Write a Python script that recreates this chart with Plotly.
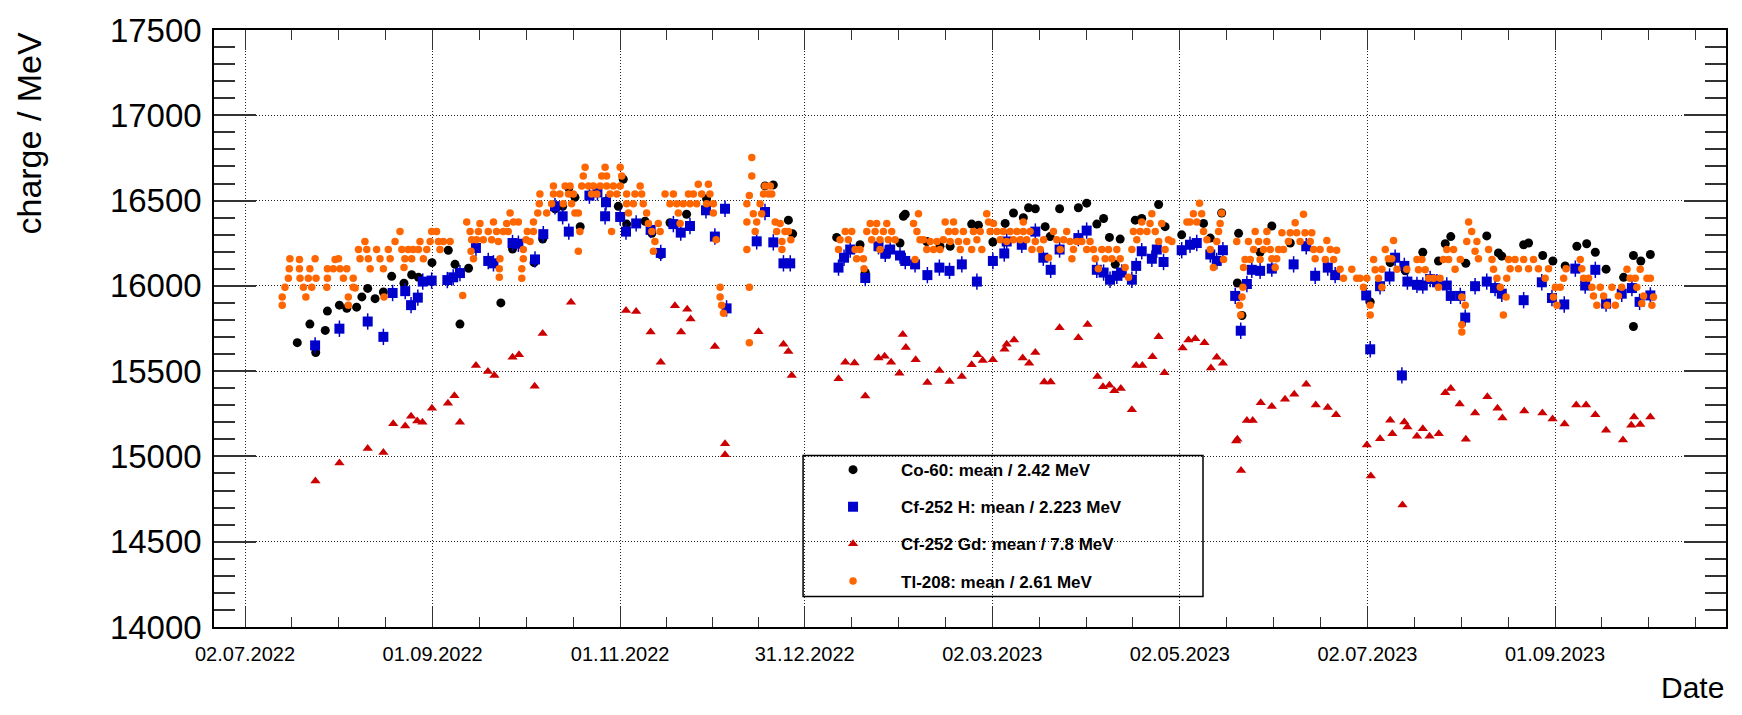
import plotly.graph_objects as go
import pandas as pd

DAY0 = "2022-07-02"  # day offsets below are counted from this date

# ---------------- data (day offset, charge/MeV) ----------------
co60 = [
    (17.0, 15667), (23.0, 15609), (21.1, 15776), (26.1, 15739), (26.8, 15852), (30.7, 15887),
    (33.1, 15868), (36.3, 15875), (38.0, 15935), (39.9, 15985), (42.3, 15925), (45.0, 15964),
    (47.7, 16056), (51.7, 16015), (54.2, 16065), (56.4, 16050), (60.8, 16136), (66.1, 16209),
    (68.3, 16126), (69.9, 15776), (72.7, 16103), (83.2, 15900), (87.0, 16216), (94.0, 16136),
    (96.8, 16274), (100.8, 16452), (103.3, 16467), (105.3, 16573), (107.3, 16519), (109.0, 16347),
    (117.4, 16496), (121.4, 16466), (123.0, 16625), (124.1, 16362), (130.1, 16379), (132.3, 16308),
    (135.2, 16184), (138.2, 16370), (143.6, 16420), (150.1, 16510), (169.1, 16586), (171.8, 16592),
    (176.7, 16385), (178.1, 16305), (192.4, 16284), (200.0, 16241), (201.7, 16078), (213.0, 16251),
    (214.1, 16408), (214.7, 16420), (221.7, 16260), (226.0, 16232), (229.3, 16232), (236.3, 16362),
    (238.5, 16356), (243.2, 16257), (247.2, 16366), (249.9, 16427), (253.1, 16400), (254.8, 16458),
    (257.0, 16452), (260.2, 16347), (261.8, 16289), (264.9, 16452), (271.0, 16458), (273.7, 16485),
    (277.0, 16362), (279.2, 16395), (281.1, 16284), (283.0, 16126), (284.6, 16274), (289.5, 16385),
    (291.6, 16395), (297.1, 16477), (299.2, 16347), (304.6, 16299), (311.7, 16366), (313.9, 16280),
    (317.6, 16427), (323.1, 16308), (322.7, 16017), (324.2, 15826), (330.1, 16197), (333.9, 16351),
    (339.9, 16251), (365.9, 15906), (372.4, 16136), (377.3, 16088), (383.0, 16197), (388.1, 16146),
    (390.3, 16247), (392.1, 16289), (397.0, 16132), (403.8, 16293), (407.6, 16193), (408.7, 16174),
    (415.8, 16241), (417.4, 16251), (422.0, 16178), (425.3, 16146), (429.3, 16117), (433.1, 16232),
    (436.3, 16247), (439.1, 16197), (442.6, 16098), (448.3, 16050), (451.5, 16178), (451.5, 15762),
    (453.9, 16146), (457.0, 16184),
]

cf_h = [
    (22.8, 15651), (30.7, 15749), (39.9, 15791), (45.0, 15701), (48.0, 15958), (52.1, 15969),
    (54.0, 15887), (56.2, 15931), (57.8, 16025), (60.7, 16031), (65.8, 16034), (67.7, 16050),
    (69.9, 16075), (75.1, 16222), (79.1, 16146), (80.8, 16132), (87.0, 16251), (88.9, 16247),
    (94.3, 16155), (97.0, 16303), (100.8, 16467), (103.3, 16408), (105.3, 16318), (112.0, 16529),
    (114.6, 16548), (117.4, 16490), (117.1, 16408), (122.0, 16404), (123.9, 16318), (127.2, 16366),
    (131.9, 16328), (135.2, 16193), (139.3, 16362), (141.7, 16312), (144.7, 16351), (149.9, 16443),
    (152.8, 16289), (156.1, 16452), (156.6, 15868), (166.4, 16261), (169.1, 16433), (171.8, 16255),
    (175.1, 16132), (177.3, 16132), (193.0, 16107), (194.8, 16165), (196.8, 16213), (201.7, 16046),
    (206.0, 16232), (208.2, 16188), (209.8, 16213), (213.0, 16178), (214.7, 16146), (217.9, 16126),
    (221.9, 16063), (225.8, 16107), (229.1, 16088), (233.1, 16126), (238.0, 16025), (243.2, 16146),
    (246.9, 16190), (247.7, 16260), (252.6, 16241), (257.0, 16318), (259.6, 16165), (262.0, 16094),
    (264.9, 16213), (271.0, 16280), (273.7, 16324), (277.0, 16094), (279.2, 16078), (281.3, 16036),
    (283.5, 16059), (285.1, 16078), (288.4, 16036), (289.8, 16117), (291.6, 16203), (294.9, 16159),
    (296.5, 16213), (298.7, 16140), (304.6, 16209), (307.3, 16241), (309.5, 16251), (313.9, 16184),
    (316.0, 16146), (318.0, 16209), (322.0, 15941), (325.8, 16011), (323.8, 15737), (327.4, 16094),
    (330.1, 16088), (333.9, 16101), (341.0, 16126), (345.1, 16232), (348.0, 16059), (352.1, 16107),
    (354.5, 16063), (364.6, 15944), (365.9, 15628), (369.1, 15998), (372.2, 16055), (374.0, 16165),
    (376.2, 15475), (377.0, 16117), (378.0, 16025), (381.1, 16006), (383.0, 16002), (385.4, 16040),
    (387.6, 16021), (390.8, 16002), (392.1, 15941), (395.2, 15941), (396.8, 15814), (400.0, 15998),
    (403.8, 16025), (406.5, 15987), (408.7, 15954), (415.8, 15916), (421.7, 16021), (425.0, 15929),
    (429.0, 15891), (432.6, 16101), (435.8, 16002), (439.1, 16094), (442.6, 15896), (447.7, 15954),
    (451.0, 15987), (453.5, 15906), (457.0, 15944),
]

cf_gd = [
    (22.9, 14856), (30.7, 14962), (39.9, 15046), (45.0, 15023), (48.2, 15192), (52.1, 15179),
    (54.0, 15235), (56.0, 15208), (57.7, 15200), (60.8, 15283), (66.0, 15312), (68.1, 15356),
    (69.9, 15200), (75.1, 15533), (79.0, 15498), (81.1, 15475), (87.0, 15581), (89.1, 15596),
    (94.2, 15412), (96.8, 15721), (106.0, 15904), (123.9, 15856), (127.2, 15850), (131.9, 15729),
    (135.2, 15552), (139.8, 15883), (141.8, 15729), (143.8, 15863), (144.9, 15806), (152.8, 15644),
    (156.1, 15075), (156.1, 15010), (167.0, 15731), (175.1, 15658), (176.7, 15615), (177.8, 15475),
    (193.0, 15456), (195.2, 15552), (198.2, 15548), (201.7, 15354), (206.0, 15577), (208.0, 15587),
    (210.1, 15552), (212.8, 15488), (213.9, 15715), (214.9, 15638), (218.1, 15567), (221.9, 15433),
    (225.8, 15504), (229.1, 15440), (233.1, 15469), (236.3, 15538), (238.2, 15596), (239.9, 15562),
    (243.2, 15567), (247.0, 15629), (247.7, 15658), (250.1, 15683), (252.9, 15577), (255.0, 15546),
    (257.0, 15610), (259.9, 15437), (262.0, 15437), (264.9, 15754), (271.0, 15696), (274.0, 15773),
    (277.2, 15469), (279.0, 15408), (281.1, 15417), (282.7, 15385), (284.8, 15398), (288.4, 15273),
    (289.8, 15533), (291.8, 15533), (295.1, 15585), (297.1, 15702), (299.0, 15490), (304.9, 15635),
    (306.8, 15683), (309.0, 15690), (312.0, 15667), (314.1, 15519), (316.0, 15581), (318.0, 15546),
    (322.3, 15090), (322.7, 15100), (323.9, 14917), (325.8, 15210), (327.7, 15210), (330.3, 15315),
    (333.9, 15292), (338.2, 15335), (341.2, 15365), (345.1, 15423), (348.2, 15302), (352.1, 15287),
    (354.8, 15244), (364.8, 15067), (366.1, 14885), (369.1, 15104), (372.4, 15212), (373.1, 15133),
    (376.4, 14715), (377.0, 15202), (378.0, 15173), (381.1, 15119), (383.0, 15162), (385.2, 15119),
    (388.2, 15133), (390.3, 15373), (392.1, 15398), (395.0, 15308), (397.0, 15100), (400.0, 15254),
    (404.0, 15350), (407.3, 15283), (408.9, 15225), (416.0, 15267), (421.9, 15254), (425.2, 15219),
    (429.1, 15190), (432.9, 15302), (436.1, 15302), (439.1, 15244), (442.6, 15154), (448.1, 15096),
    (450.8, 15183), (451.7, 15231), (453.7, 15187), (457.0, 15231),
]

tl208 = [
    (12.1, 15887), (12.1, 15935), (13.0, 15992), (14.1, 16044), (14.4, 16101), (14.6, 16159),
    (17.7, 16155), (17.7, 16101), (17.9, 16044), (19.0, 15992), (19.8, 15935), (20.6, 16044),
    (21.1, 16101), (21.7, 15992), (22.8, 16159), (23.1, 16044), (26.6, 15992), (26.8, 16044),
    (26.8, 16101), (28.7, 16101), (29.3, 16155), (30.4, 16159), (30.9, 16101), (32.0, 16044),
    (33.1, 16101), (33.6, 15935), (33.6, 15887), (35.2, 15992), (35.2, 16044), (35.8, 15987),
    (36.9, 16213), (37.4, 16159), (39.0, 16260), (39.6, 16213), (40.1, 16159), (40.7, 16101),
    (42.8, 16213), (43.9, 16159), (45.0, 16101), (45.2, 15935), (46.6, 16213), (47.2, 16159),
    (48.8, 16260), (50.4, 16318), (51.0, 16213), (52.0, 16159), (51.7, 16107), (53.1, 16213),
    (54.2, 16159), (54.7, 16213), (56.4, 16213), (56.9, 16260), (58.0, 16159), (59.1, 16213),
    (60.2, 16260), (60.7, 16318), (62.3, 16318), (62.9, 16260), (63.4, 16213), (64.5, 16260),
    (66.7, 16260), (70.8, 15944), (72.1, 16375), (73.2, 16318), (73.7, 16270), (73.5, 16203),
    (74.3, 16159), (75.3, 16270), (75.9, 16318), (76.4, 16366), (77.5, 16270), (79.1, 16318),
    (80.2, 16270), (80.8, 16375), (81.8, 16318), (82.4, 16260), (82.9, 16159), (82.7, 16101),
    (82.7, 16050), (84.0, 16318), (85.1, 16366), (85.6, 16318), (86.2, 16427), (87.3, 16375),
    (88.9, 16375), (90.0, 16101), (90.0, 16044), (90.5, 16213), (90.5, 16159), (91.4, 16270),
    (91.8, 16318), (92.7, 16260), (93.8, 16375), (93.8, 16318), (95.2, 16427), (95.7, 16481),
    (95.9, 16538), (98.1, 16427), (99.7, 16481), (100.3, 16538), (100.3, 16586), (102.4, 16538),
    (103.5, 16481), (104.1, 16586), (105.2, 16538), (105.7, 16586), (106.8, 16538), (106.2, 16481),
    (107.3, 16427), (108.4, 16427), (108.4, 16203), (108.9, 16318), (109.5, 16586), (110.0, 16644),
    (110.6, 16695), (111.7, 16586), (112.7, 16538), (113.3, 16586), (114.4, 16538), (115.5, 16586),
    (116.0, 16644), (117.1, 16695), (117.6, 16586), (117.6, 16644), (118.7, 16538), (119.2, 16318),
    (119.8, 16586), (120.9, 16538), (122.0, 16695), (122.0, 16586), (122.5, 16644), (124.1, 16538),
    (124.1, 16481), (124.7, 16427), (126.3, 16481), (126.8, 16538), (128.5, 16586), (129.0, 16538),
    (129.5, 16481), (130.6, 16427), (131.2, 16366), (132.3, 16318), (133.3, 16260), (132.8, 16203),
    (134.4, 16366), (135.0, 16318), (136.6, 16538), (138.2, 16481), (139.3, 16538), (140.4, 16481),
    (140.9, 16427), (141.5, 16366), (142.5, 16481), (144.2, 16538), (144.7, 16481), (145.8, 16538),
    (146.9, 16481), (147.4, 16595), (148.5, 16538), (150.1, 16481), (150.7, 16595), (151.2, 16538),
    (152.3, 16481), (152.3, 16427), (153.2, 16270), (154.5, 15992), (154.5, 15935), (155.0, 15887),
    (155.6, 15839),
    (164.8, 16753), (164.8, 16644), (164.0, 16529), (163.2, 16481), (163.2, 16375), (163.2, 16213),
    (164.0, 15992), (164.0, 15667), (165.3, 16423), (165.9, 16318), (166.4, 16375), (167.5, 16481),
    (168.0, 16423), (168.6, 16538), (169.1, 16586), (170.2, 16538), (170.8, 16586), (171.3, 16538),
    (172.4, 16375), (172.9, 16318), (174.0, 16366), (174.6, 16260), (174.6, 16213), (175.6, 16318),
    (176.7, 16318), (177.5, 16270),
    (193.0, 16213), (193.5, 16270), (195.2, 16318), (196.2, 16270), (197.3, 16318), (198.4, 16213),
    (198.9, 16159), (200.0, 16213), (201.1, 16159), (201.3, 16101), (202.2, 16318), (203.3, 16366),
    (203.8, 16270), (204.9, 16318), (205.4, 16366), (206.5, 16270), (206.5, 16213), (207.6, 16318),
    (208.7, 16366), (209.2, 16270), (210.3, 16318), (211.4, 16270), (217.9, 16155), (217.4, 16366),
    (218.5, 16318), (219.0, 16423), (219.5, 16270), (220.6, 16270), (221.7, 16213), (222.8, 16260),
    (223.9, 16213), (225.0, 16260), (226.0, 16213), (227.1, 16270), (227.7, 16375), (228.8, 16318),
    (229.3, 16260), (230.4, 16375), (230.9, 16318), (232.0, 16260), (232.6, 16213), (233.6, 16318),
    (234.7, 16260), (236.3, 16213), (236.9, 16318), (238.0, 16270), (239.1, 16318), (239.6, 16213),
    (241.2, 16423), (241.8, 16375), (242.3, 16318), (243.4, 16366), (244.5, 16318), (245.6, 16270),
    (246.6, 16318), (247.7, 16260), (248.8, 16318), (249.9, 16270), (251.0, 16318), (252.1, 16270),
    (253.1, 16375), (253.1, 16318), (254.2, 16270), (255.3, 16318), (255.9, 16213), (257.0, 16260),
    (258.6, 16213), (259.7, 16270), (261.3, 16165), (262.9, 16318), (264.0, 16270), (265.1, 16213),
    (266.2, 16270), (267.2, 16318), (268.3, 16260), (268.9, 16159), (269.4, 16213), (270.5, 16260),
    (272.1, 16260), (273.7, 16213), (274.8, 16260), (275.9, 16213), (276.5, 16159), (277.5, 16101),
    (278.6, 16213), (279.7, 16159), (280.8, 16213), (281.9, 16159), (283.5, 16213), (284.6, 16159),
    (286.2, 16107), (287.3, 16050), (288.4, 16213), (288.9, 16318), (290.0, 16270), (291.1, 16318),
    (291.6, 16375), (293.3, 16318), (294.3, 16366), (294.9, 16423), (296.0, 16318), (297.1, 16260),
    (298.1, 16366), (299.2, 16213), (300.3, 16270), (301.4, 16260), (306.3, 16375), (307.3, 16375),
    (308.4, 16423), (309.5, 16375), (310.4, 16485), (311.1, 16423), (311.7, 16318), (312.8, 16270),
    (313.9, 16213), (314.9, 16107), (316.0, 16260), (316.6, 16318), (317.1, 16366), (318.2, 16155),
    (317.6, 16427), (322.5, 16260), (323.4, 15887), (324.2, 15935), (324.5, 15992), (323.8, 15829),
    (325.2, 16155), (324.7, 16107), (326.3, 16260), (326.9, 16155), (328.0, 16213), (328.5, 16318),
    (329.6, 16260), (330.1, 16155), (331.2, 16213), (332.3, 16260), (332.3, 16318), (333.4, 16213),
    (333.9, 16159), (335.0, 16107), (335.5, 16159), (336.1, 16213), (337.2, 16312), (337.7, 16213),
    (339.3, 16260), (339.9, 16312), (341.5, 16370), (342.0, 16312), (343.1, 16260), (344.2, 16420),
    (344.7, 16312), (346.4, 16260), (346.9, 16312), (347.5, 16213), (348.0, 16159), (349.6, 16213),
    (351.3, 16155), (351.8, 16266), (352.9, 16213), (354.0, 16155), (355.0, 16209), (356.1, 16098),
    (357.2, 16044), (359.9, 16098), (361.5, 16044), (362.6, 16044), (363.7, 15992), (364.8, 16044),
    (365.9, 15887), (365.9, 15829), (367.0, 16155), (367.5, 16094), (368.6, 16044), (369.7, 15992),
    (369.7, 16098), (370.8, 16213), (371.8, 16159), (372.9, 16159), (373.5, 16266), (374.6, 16098),
    (377.8, 16098), (381.1, 16155), (381.6, 16094), (382.7, 16155), (383.8, 16094), (384.9, 16044),
    (386.5, 16044), (388.1, 15992), (388.6, 16044), (389.7, 16155), (390.8, 16213), (391.4, 16155),
    (393.0, 16213), (393.5, 16098), (395.2, 16155), (395.7, 15935), (396.8, 15887), (395.7, 15772),
    (395.7, 15730), (397.3, 16260), (397.9, 16375), (398.9, 16318), (400.0, 16203), (400.6, 16260),
    (401.1, 16159), (404.4, 16213), (405.5, 16155), (406.0, 16098), (407.1, 16044), (408.2, 15992),
    (409.2, 15829), (410.1, 15935), (410.3, 16044), (410.9, 16155), (411.4, 16101), (413.0, 16155),
    (414.1, 16101), (415.8, 16155), (417.4, 16101), (419.0, 16155), (420.6, 16101), (422.8, 16044),
    (423.9, 16101), (425.5, 15935), (426.1, 15992), (426.6, 15887), (427.7, 15992), (428.8, 16044),
    (429.6, 16101), (434.2, 16155), (434.7, 16101), (435.3, 16044), (436.9, 16044), (438.0, 15992),
    (438.5, 15941), (439.6, 15887), (440.7, 15992), (441.8, 15941), (442.9, 15887), (444.5, 15992),
    (445.6, 15887), (446.6, 15941), (447.7, 15992), (449.4, 16098), (450.4, 16044), (452.1, 16044),
    (452.6, 15992), (453.7, 16098), (454.2, 15896), (454.8, 15941), (455.9, 16044), (457.0, 16044),
    (457.5, 15887), (458.0, 15935),
]

series_names = [
    "Co-60: mean / 2.42 MeV",
    "Cf-252 H: mean / 2.223 MeV",
    "Cf-252 Gd: mean / 7.8 MeV",
    "Tl-208: mean / 2.61 MeV",
]

x_tick_dates = ["2022-07-02", "2022-09-01", "2022-11-01", "2022-12-31",
                "2023-03-02", "2023-05-02", "2023-07-02", "2023-09-01"]
x_tick_text = ["02.07.2022", "01.09.2022", "01.11.2022", "31.12.2022",
               "02.03.2023", "02.05.2023", "02.07.2023", "01.09.2023"]
y_tick_vals = [14000, 14500, 15000, 15500, 16000, 16500, 17000, 17500]
y_tick_text = ["14000", "14500", "15000", "15500", "16000", "16500", "17000", "17500"]


def to_xy(pairs):
    days = [p[0] for p in pairs]
    vals = [p[1] for p in pairs]
    dates = pd.Timestamp(DAY0) + pd.to_timedelta(days, unit="D")
    return dates, vals


FONT = "Liberation Sans, Arial, Helvetica, sans-serif"
fig = go.Figure()

x, y = to_xy(co60)
fig.add_trace(go.Scatter(
    x=x, y=y, mode="markers", name=series_names[0], legendgroup="a",
    marker=dict(symbol="circle", size=9, color="#000000"),
    error_y=dict(type="constant", value=12, color="#000000", thickness=1.2, width=0),
))
x, y = to_xy(cf_h)
fig.add_trace(go.Scatter(
    x=x, y=y, mode="markers", name=series_names[1], legendgroup="b",
    marker=dict(symbol="square", size=10, color="#0000CC"),
    error_y=dict(type="constant", value=48, color="#0000CC", thickness=1.5, width=0),
))
x, y = to_xy(cf_gd)
fig.add_trace(go.Scatter(
    x=x, y=y, mode="markers", name=series_names[2], legendgroup="c",
    marker=dict(symbol="triangle-up", size=9, color="#CC0000"),
))
x, y = to_xy(tl208)
fig.add_trace(go.Scatter(
    x=x, y=y, mode="markers", name=series_names[3], legendgroup="d",
    marker=dict(symbol="circle", size=7.5, color="#FF6600"),
    error_x=dict(type="constant", value=0.6 * 86400000, color="#FF6600", thickness=2, width=0),
    error_y=dict(type="constant", value=8, color="#FF6600", thickness=2, width=0),
))

# minor x ticks at quarter intervals between major ticks
maj = [pd.Timestamp(d) for d in x_tick_dates]
minor_x = []
for a, b in zip(maj[:-1], maj[1:]):
    for k in (1, 2, 3):
        minor_x.append(a + (b - a) * k / 4)
step = (maj[-1] - maj[-2]) / 4
for k in (1, 2, 3):
    minor_x.append(maj[-1] + step * k)

x_start = pd.Timestamp(DAY0) - pd.Timedelta(days=10.08)
x_end = pd.Timestamp(DAY0) + pd.Timedelta(days=481.6)

fig.update_layout(
    width=1742, height=715,
    margin=dict(l=214, r=16, t=21, b=88),
    paper_bgcolor="white", plot_bgcolor="white",
    font=dict(family=FONT, color="#000000"),
    showlegend=True,
    legend=dict(
        x=0.3909, y=0.293, xanchor="left", yanchor="top",
        bgcolor="rgba(0,0,0,0)", borderwidth=0,
        font=dict(family=FONT, size=17, color="#000000", weight="bold"),
        tracegroupgap=12, itemwidth=86,
    ),
    xaxis=dict(
        type="date", range=[x_start, x_end],
        tickmode="array", tickvals=maj, ticktext=x_tick_text,
        ticks="inside", ticklen=20, tickwidth=1, tickcolor="#333333",
        showgrid=True, gridcolor="#222222", gridwidth=1, griddash="1px,2px",
        showline=True, linecolor="#000000", linewidth=2, mirror="allticks",
        zeroline=False,
        tickfont=dict(family=FONT, size=20, color="#000000"),
        ticklabelstandoff=8,
        minor=dict(tickmode="array", tickvals=minor_x, ticks="inside", ticklen=10,
                   tickwidth=1, tickcolor="#333333", showgrid=False),
    ),
    yaxis=dict(
        range=[14000, 17500],
        tickmode="array", tickvals=y_tick_vals, ticktext=y_tick_text,
        ticks="inside", ticklen=42, tickwidth=1.5, tickcolor="#333333",
        showgrid=True, gridcolor="#222222", gridwidth=1, griddash="1px,2px",
        showline=True, linecolor="#000000", linewidth=1.5, mirror="allticks",
        zeroline=False,
        tickfont=dict(family=FONT, size=33, color="#000000"),
        ticklabelstandoff=4,
        minor=dict(dtick=100, ticks="inside", ticklen=21, tickwidth=1.5,
                   tickcolor="#333333", showgrid=False),
    ),
    shapes=[dict(
        type="rect", xref="paper", yref="paper",
        x0=0.3896, x1=0.6541, y0=0.0512, y1=0.2871,
        line=dict(color="#000000", width=1.5), fillcolor="white", layer="between",
    )],
    annotations=[
        dict(text="charge / MeV", textangle=-90, xref="paper", yref="paper",
             x=-0.123, y=1.0, xanchor="center", yanchor="top", showarrow=False,
             font=dict(family=FONT, size=34, color="#000000")),
        dict(text="Date", xref="paper", yref="paper",
             x=1.0, y=-0.101, xanchor="right", yanchor="middle", showarrow=False,
             font=dict(family=FONT, size=30, color="#000000")),
    ],
)

fig.write_html("out.html")
